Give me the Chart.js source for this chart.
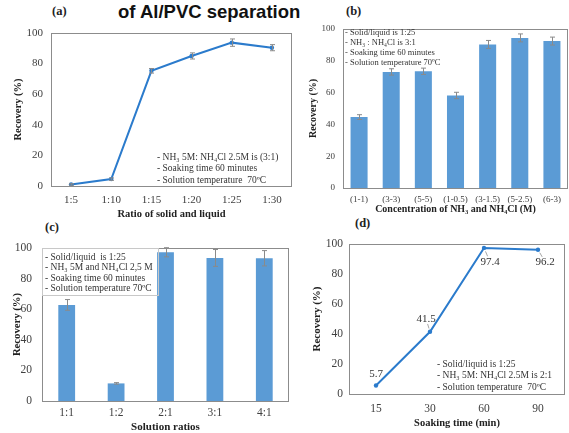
<!DOCTYPE html>
<html>
<head>
<meta charset="utf-8">
<script src="https://cdn.jsdelivr.net/npm/chart.js@4.4.0/dist/chart.umd.min.js"></script>
<style>
  body { margin: 0; background: #fff; width: 569px; height: 433px; position: relative; overflow: hidden; }
  canvas { position: absolute; }
  .tag { position: absolute; font: bold 12.5px "Liberation Serif", serif; color: #222; }
  #title { position: absolute; left: 118px; top: 1px; font: bold 18.5px "Liberation Sans", Arial, sans-serif; color: #111; white-space: nowrap; }
</style>
</head>
<body>
<div id="title">of Al/PVC separation</div>
<div class="tag" style="left:52px;top:4px">(a)</div>
<div class="tag" style="left:346px;top:4px">(b)</div>
<div class="tag" style="left:45px;top:220px">(c)</div>
<div class="tag" style="left:355px;top:216px">(d)</div>
<canvas id="ca"></canvas>
<canvas id="cb"></canvas>
<canvas id="cc"></canvas>
<canvas id="cd"></canvas>
<script>
// ---- data ----
var ratioLabels = ['1:5', '1:10', '1:15', '1:20', '1:25', '1:30'];
var ratioRecovery = [1, 4.5, 75.3, 85, 93.7, 90.4];
var ratioError = [0.5, 0.8, 1.5, 2, 2.4, 2];

var concLabels = ['(1-1)', '(3-3)', '(5-5)', '(1-0.5)', '(3-1.5)', '(5-2.5)', '(6-3)'];
var concRecovery = [44.6, 73, 73.4, 58.2, 90.3, 94.4, 92.4];
var concError = [1.5, 2, 2, 2, 2.5, 2.5, 2.5];

var solLabels = ['1:1', '1:2', '2:1', '3:1', '4:1'];
var solRecovery = [62.8, 11.5, 97.2, 93.5, 93.3];
var solError = [3.5, 0.5, 3, 5.5, 5];

var timeLabels = ['15', '30', '60', '90'];
var timeRecovery = [5.7, 41.5, 97.4, 96.2];

var yTicks = [0, 20, 40, 60, 80, 100];

var notesA = ['- NH\u2083 5M: NH\u2084Cl 2.5M is (3:1)', '- Soaking time 60 minutes', '- Solution temperature  70\u00baC'];
var notesB = ['- Solid/liquid is 1:25', '- NH\u2083 : NH\u2084Cl is 3:1', '- Soaking time 60 minutes', '- Solution temperature 70\u00baC'];
var notesC = ['- Solid/liquid  is 1:25', '- NH\u2083 5M and NH\u2084Cl 2,5 M', '- Soaking time 60 minutes', '- Solution temperature 70\u00baC'];
var notesD = ['- Solid/liquid is 1:25', '- NH\u2083 5M: NH\u2084Cl 2.5M is 2:1', '- Solution temperature  70\u00baC'];

var BAR = '#5b9bd5', LINE = '#2b7bcc', SERIF = '"Liberation Serif", "Times New Roman", serif';

var extras = {
  id: 'extras',
  afterDatasetsDraw: function(chart, args, o) {
    var ctx = chart.ctx, a = chart.chartArea, xs = chart.scales.x, ys = chart.scales.y;
    var vals = chart.data.datasets[0].data;
    ctx.save();
    if (o.err) {
      ctx.strokeStyle = '#8a8a8a';
      ctx.lineWidth = 1;
      o.err.forEach(function(e, i) {
        var x = Math.round(xs.getPixelForValue(i)) + 0.5;
        var y1 = ys.getPixelForValue(vals[i] + e), y2 = ys.getPixelForValue(vals[i] - e);
        ctx.beginPath();
        ctx.moveTo(x, y1); ctx.lineTo(x, y2);
        ctx.moveTo(x - 2.5, y1); ctx.lineTo(x + 2.5, y1);
        ctx.moveTo(x - 2.5, y2); ctx.lineTo(x + 2.5, y2);
        ctx.stroke();
      });
    }
    if (o.valueLabels) {
      ctx.font = o.valueFont + 'px ' + SERIF;
      ctx.fillStyle = '#333';
      ctx.textAlign = 'center';
      ctx.textBaseline = 'middle';
      vals.forEach(function(v, i) {
        var px = xs.getPixelForValue(i), py = ys.getPixelForValue(v);
        var off = o.valueOffsets[i];
        if (off[2]) {
          ctx.strokeStyle = '#a6a6a6';
          ctx.beginPath();
          ctx.moveTo(px + off[0] * 0.25, py + off[1] * 0.25);
          ctx.lineTo(px + off[0] * 0.6, py + off[1] * 0.6);
          ctx.stroke();
        }
        ctx.fillText(v.toFixed(1), px + off[0], py + off[1]);
      });
    }
    ctx.strokeStyle = '#8c8c8c';
    ctx.lineWidth = 1;
    ctx.strokeRect(Math.round(a.left) + 0.5, Math.round(a.top) + 0.5, Math.round(a.right - a.left) - 1, Math.round(a.bottom - a.top));
    if (o.noteBox) {
      var b = o.noteBox;
      ctx.strokeStyle = '#c8c8c8';
      ctx.strokeRect(a.left + b[0] + 0.5, a.top + b[1] + 0.5, b[2], b[3]);
    }
    ctx.font = o.noteFont + 'px ' + SERIF;
    ctx.fillStyle = '#333';
    ctx.textAlign = 'left';
    ctx.textBaseline = 'middle';
    o.notes.forEach(function(t, i) {
      ctx.fillText(t, a.left + o.noteX, a.top + o.noteY + i * o.noteGap);
    });
    ctx.restore();
  }
};

function panel(id, type, labels, values, lay, f, plug) {
  var el = document.getElementById(id);
  var c = lay.canvas;
  el.width = c[2]; el.height = c[3];
  el.style.left = c[0] + 'px'; el.style.top = c[1] + 'px';
  el.style.width = c[2] + 'px'; el.style.height = c[3] + 'px';
  var yLH = f.yTitle * 1.2, xLH = f.xTitle * 1.2;
  var padLeft = lay.yTitleX - yLH / 2 - c[0];
  var yWidth = lay.area[0] - c[0] - padLeft;
  var xBottom = lay.xTitleY + xLH / 2;
  var xHeight = xBottom - lay.area[3];
  var ds = type === 'bar'
    ? { data: values, backgroundColor: BAR, barPercentage: f.barPct, categoryPercentage: 1 }
    : { data: values, borderColor: LINE, backgroundColor: LINE, borderWidth: 2, pointRadius: 2.2, pointBorderWidth: 0, tension: 0 };
  return new Chart(el, {
    type: type,
    data: { labels: labels, datasets: [ds] },
    plugins: [extras],
    options: {
      responsive: false,
      animation: false,
      layout: { padding: { left: padLeft, top: lay.area[1] - c[1], right: c[0] + c[2] - lay.area[2], bottom: c[1] + c[3] - xBottom } },
      plugins: { legend: { display: false }, tooltip: { enabled: false }, extras: plug },
      scales: {
        x: {
          offset: true,
          grid: { display: false, drawTicks: false },
          border: { display: false },
          ticks: { color: '#404040', font: { family: SERIF, size: f.xTick }, padding: lay.xLabelOff - f.xTick * 0.6, maxRotation: 0, autoSkip: false },
          title: { display: true, text: f.xText, color: '#222', padding: 0, font: { family: SERIF, size: f.xTitle, weight: 'bold' } },
          afterFit: function(s) { s.height = xHeight; }
        },
        y: {
          min: 0, max: 100,
          afterBuildTicks: function(s) { s.ticks = yTicks.map(function(v) { return { value: v }; }); },
          grid: { display: false, drawTicks: false },
          border: { display: false },
          ticks: { color: '#404040', font: { family: SERIF, size: f.yTick }, padding: lay.yLabelPad },
          title: { display: true, text: 'Recovery (%)', color: '#222', padding: 0, font: { family: SERIF, size: f.yTitle, weight: 'bold' } },
          afterFit: function(s) { s.width = yWidth; }
        }
      }
    }
  });
}

panel('ca', 'line', ratioLabels, ratioRecovery,
  { canvas: [0, 0, 296, 222], area: [51, 33, 292, 186], yTitleX: 18, xTitleY: 214, xLabelOff: 14, yLabelPad: 8 },
  { xTick: 11, yTick: 11, xTitle: 10.5, yTitle: 10.5, xText: 'Ratio of solid and liquid' },
  { err: ratioError, notes: notesA, noteFont: 9.5, noteX: 106, noteY: 124, noteGap: 11.5 });

panel('cb', 'bar', concLabels, concRecovery,
  { canvas: [296, 0, 273, 222], area: [343, 29, 568, 188], yTitleX: 313, xTitleY: 209.5, xLabelOff: 11.5, yLabelPad: 8 },
  { xTick: 9, yTick: 9, xTitle: 10, yTitle: 10, xText: 'Concentration of NH\u2083 and NH\u2084Cl (M)', barPct: 0.53 },
  { err: concError, notes: notesB, noteFont: 8.5, noteX: 2, noteY: 4, noteGap: 10 });

panel('cc', 'bar', solLabels, solRecovery,
  { canvas: [0, 218, 296, 215], area: [42, 248, 289, 401], yTitleX: 17, xTitleY: 427.5, xLabelOff: 12, yLabelPad: 10 },
  { xTick: 11.5, yTick: 11.5, xTitle: 11, yTitle: 10.7, xText: 'Solution ratios', barPct: 0.34 },
  { err: solError, notes: notesC, noteFont: 9.5, noteX: 3, noteY: 9, noteGap: 10.5, noteBox: [0, 0, 116, 47] });

panel('cd', 'line', timeLabels, timeRecovery,
  { canvas: [296, 218, 273, 215], area: [349, 244, 568, 394], yTitleX: 317, xTitleY: 423, xLabelOff: 15, yLabelPad: 6 },
  { xTick: 11.5, yTick: 11.5, xTitle: 10.5, yTitle: 11, xText: 'Soaking time (min)' },
  { notes: notesD, noteFont: 9.5, noteX: 88, noteY: 120, noteGap: 11.5,
    valueLabels: true, valueFont: 11, valueOffsets: [[0, -11, 0], [-4, -13, 1], [6, 14, 1], [7, 12, 1]] });
</script>
</body>
</html>
